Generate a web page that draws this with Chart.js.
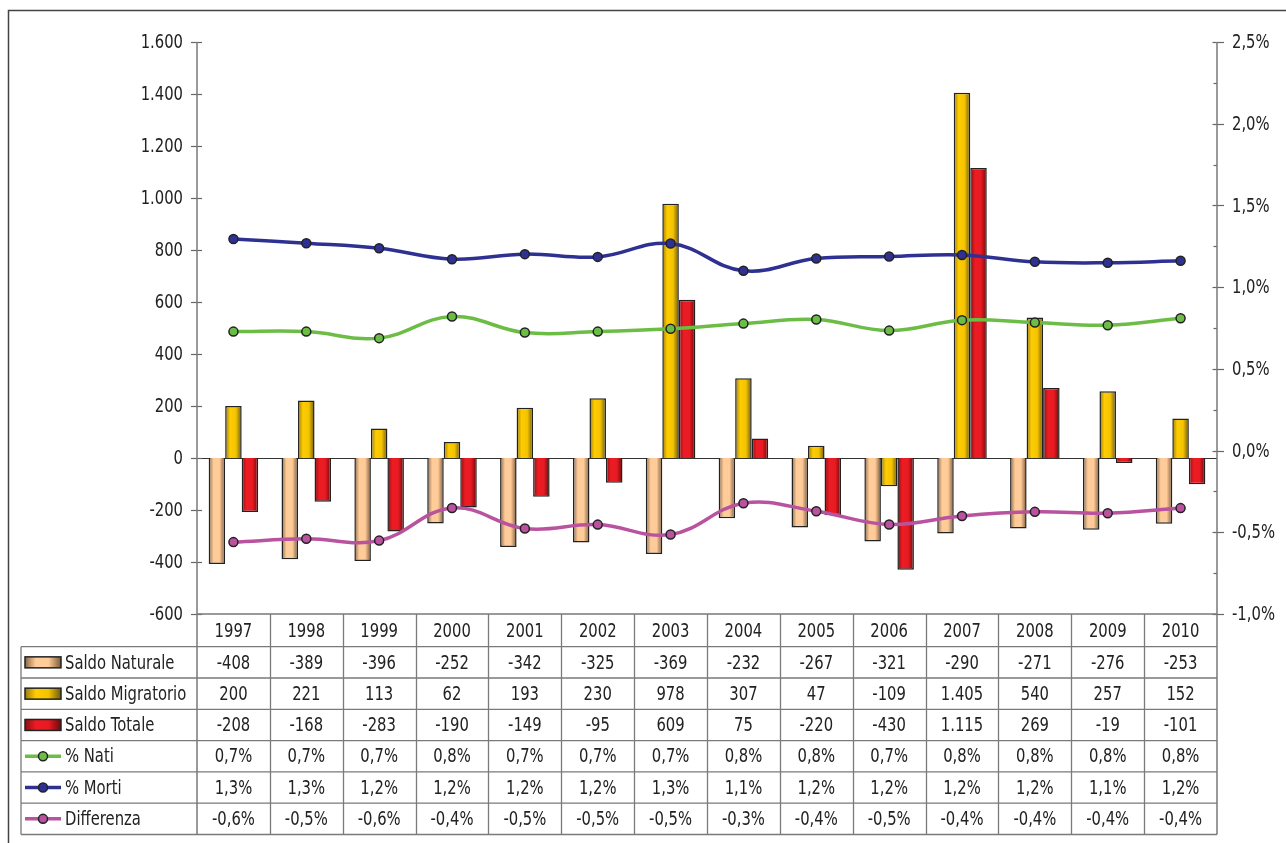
<!DOCTYPE html>
<html lang="it">
<head>
<meta charset="UTF-8" />
<title>Saldi demografici 1997-2010</title>
<script src="https://cdn.jsdelivr.net/npm/chart.js"></script>
<style>
  html, body { margin: 0; padding: 0; background: #fff; overflow: hidden; }
  #wrap { position: relative; width: 1286px; height: 843px; }
</style>
</head>
<body>
<div id="wrap"><canvas id="chart" width="1286" height="843"></canvas></div>

<script>
const years = ['1997','1998','1999','2000','2001','2002','2003','2004','2005','2006','2007','2008','2009','2010'];

const saldoNaturale   = [-408, -389, -396, -252, -342, -325, -369, -232, -267, -321, -290, -271, -276, -253];
const saldoMigratorio = [200, 221, 113, 62, 193, 230, 978, 307, 47, -109, 1405, 540, 257, 152];
const saldoTotale     = [-208, -168, -283, -190, -149, -95, 609, 75, -220, -430, 1115, 269, -19, -101];

// percent values
const pctNati       = [0.728, 0.728, 0.688, 0.820, 0.722, 0.728, 0.745, 0.777, 0.802, 0.734, 0.798, 0.783, 0.767, 0.810];
const pctMorti      = [1.295, 1.269, 1.238, 1.171, 1.202, 1.185, 1.267, 1.100, 1.175, 1.187, 1.197, 1.155, 1.149, 1.161];
const pctDifferenza = [-0.560, -0.540, -0.551, -0.351, -0.477, -0.453, -0.514, -0.322, -0.371, -0.452, -0.400, -0.375, -0.383, -0.352];

const FONT = "'DejaVu Sans', Verdana, sans-serif";
const FONT_SIZE = 20;
const NARROW = 0.74;   // horizontal squeeze, the original uses a narrow face
const TEXT = '#222';
const GRID = '#7a7a7a';
const catPct = 0.68;

// horizontal gradients: dark edge, light body, dark edge
const barColors = {
  naturale:   ['#8a6a4c', '#ffcc99', '#ffcc99', '#7a5a3c'],
  migratorio: ['#9a7c10', '#ffcc00', '#f4c400', '#6e5a10'],
  totale:     ['#8a1010', '#ed1c24', '#e81a22', '#6a0a0a']
};
const lineColors = { nati: '#6cbd45', morti: '#2e3192', diff: '#b9529f' };

function fmtInt(v) {
  const s = Math.abs(v).toString().replace(/\B(?=(\d{3})+(?!\d))/g, '.');
  return (v < 0 ? '-' : '') + s;
}
function fmtPct(v) {
  return v.toFixed(1).replace('.', ',') + '%';
}

function gradient(c, x0, x1, stops) {
  const g = c.createLinearGradient(x0, 0, x1, 0);
  g.addColorStop(0, stops[0]);
  g.addColorStop(0.3, stops[1]);
  g.addColorStop(0.65, stops[2]);
  g.addColorStop(1, stops[3]);
  return g;
}

function barFill(stops) {
  return function (ctx) {
    const chart = ctx.chart;
    const xs = chart.scales.x;
    if (!xs || ctx.type !== 'data') return stops[1];
    const w = xs.getPixelForValue(1) - xs.getPixelForValue(0);
    const bw = w * catPct / 3;
    const cx = xs.getPixelForValue(ctx.dataIndex) + (ctx.datasetIndex - 1) * bw;
    if (!isFinite(cx) || !isFinite(bw)) return stops[1];
    return gradient(chart.ctx, cx - bw / 2, cx + bw / 2, stops);
  };
}

function text(c, str, x, y, align) {
  c.save();
  c.translate(x, y);
  c.scale(NARROW, 1);
  c.textAlign = align;
  c.fillText(str, 0, 0);
  c.restore();
}

const tableRows = [
  { label: 'Saldo Naturale',   values: saldoNaturale,   fmt: fmtInt, bar: barColors.naturale },
  { label: 'Saldo Migratorio', values: saldoMigratorio, fmt: fmtInt, bar: barColors.migratorio },
  { label: 'Saldo Totale',     values: saldoTotale,     fmt: fmtInt, bar: barColors.totale },
  { label: '% Nati',           values: pctNati,         fmt: fmtPct, line: lineColors.nati },
  { label: '% Morti',          values: pctMorti,        fmt: fmtPct, line: lineColors.morti },
  { label: 'Differenza',       values: pctDifferenza,   fmt: fmtPct, line: lineColors.diff }
];

// frame, axes, ticks, zero line and the data table under the plot
const tablePlugin = {
  id: 'tablePlugin',
  beforeDatasetsDraw(chart) {
    const c = chart.ctx, a = chart.chartArea, y = chart.scales.y;
    const y0 = Math.round(y.getPixelForValue(0)) + 0.5;
    c.save();
    c.strokeStyle = '#333';
    c.lineWidth = 1;
    c.beginPath(); c.moveTo(a.left, y0); c.lineTo(a.right, y0); c.stroke();
    c.restore();
  },
  afterDraw(chart) {
    const c = chart.ctx, a = chart.chartArea;
    const xs = chart.scales.x, y = chart.scales.y, y1 = chart.scales.y1;
    const w = xs.getPixelForValue(1) - xs.getPixelForValue(0);
    const headerH = 32.7, rowH = 31.3, legendLeft = 21;
    const tableBottom = a.bottom + headerH + rowH * tableRows.length;

    c.save();
    // outer frame
    c.strokeStyle = '#444';
    c.lineWidth = 1.5;
    c.strokeRect(8.5, 10.5, 1300, 860);

    // tick marks
    c.strokeStyle = '#666';
    c.lineWidth = 1.2;
    y.ticks.forEach(t => {
      const py = Math.round(y.getPixelForValue(t.value)) + 0.5;
      c.beginPath(); c.moveTo(a.left - 6, py); c.lineTo(a.left + 5, py); c.stroke();
    });
    for (let v = y1.min; v <= y1.max + 1e-9; v += 0.25) {
      const py = Math.round(y1.getPixelForValue(v)) + 0.5;
      const major = Math.abs(v * 2 - Math.round(v * 2)) < 1e-6;
      c.beginPath();
      c.moveTo(a.right - (major ? 4.5 : 3.5), py);
      c.lineTo(a.right + (major ? 7 : 0), py);
      c.stroke();
    }

    // axis lines
    c.strokeStyle = GRID;
    c.lineWidth = 1.5;
    c.beginPath();
    c.moveTo(a.left, a.top); c.lineTo(a.left, tableBottom);
    c.moveTo(a.right, a.top); c.lineTo(a.right, tableBottom);
    c.stroke();

    // table grid
    c.lineWidth = 1.3;
    c.beginPath();
    c.moveTo(a.left, a.bottom); c.lineTo(a.right, a.bottom);
    for (let r = 0; r <= tableRows.length; r++) {
      const ry = a.bottom + headerH + r * rowH;
      c.moveTo(legendLeft, ry); c.lineTo(a.right, ry);
    }
    c.moveTo(legendLeft, a.bottom + headerH); c.lineTo(legendLeft, tableBottom);
    for (let i = 1; i < years.length; i++) {
      const bx = Math.round(a.left + i * w) + 0.5;
      c.moveTo(bx, a.bottom); c.lineTo(bx, tableBottom);
    }
    c.stroke();

    c.fillStyle = TEXT;
    c.font = FONT_SIZE + 'px ' + FONT;
    c.textBaseline = 'middle';

    // axis labels
    y.ticks.forEach(t => text(c, fmtInt(t.value), a.left - 14, y.getPixelForValue(t.value) + 1, 'right'));
    y1.ticks.forEach(t => text(c, fmtPct(t.value), a.right + 15, y1.getPixelForValue(t.value) + 1, 'left'));

    // header years
    years.forEach((yr, i) => text(c, yr, xs.getPixelForValue(i), a.bottom + headerH / 2 + 1, 'center'));

    // rows
    tableRows.forEach((row, r) => {
      const cy = a.bottom + headerH + r * rowH + rowH / 2;
      // legend key
      if (row.bar) {
        c.fillStyle = gradient(c, 25, 61, row.bar);
        c.fillRect(25, cy - 5.5, 36, 11);
        c.strokeStyle = '#222';
        c.lineWidth = 1.5;
        c.strokeRect(25, cy - 5.5, 36, 11);
      } else {
        c.strokeStyle = row.line;
        c.lineWidth = 3.5;
        c.beginPath(); c.moveTo(25, cy); c.lineTo(61, cy); c.stroke();
        c.fillStyle = row.line;
        c.strokeStyle = '#222';
        c.lineWidth = 1.5;
        c.beginPath(); c.arc(43, cy, 4.5, 0, Math.PI * 2); c.fill(); c.stroke();
      }
      c.fillStyle = TEXT;
      text(c, row.label, 65, cy + 1, 'left');
      row.values.forEach((v, i) => text(c, row.fmt(v), xs.getPixelForValue(i), cy + 1, 'center'));
    });
    c.restore();
  }
};

const lineDs = (label, data, color) => ({
  type: 'line',
  label,
  data,
  yAxisID: 'y1',
  order: 0,
  borderColor: color,
  borderWidth: 3.5,
  tension: 0.4,
  pointRadius: 4.5,
  pointBackgroundColor: color,
  pointBorderColor: '#222',
  pointBorderWidth: 1.5,
  fill: false
});

const barDs = (label, data, stops) => ({
  type: 'bar',
  label,
  data,
  yAxisID: 'y',
  order: 1,
  backgroundColor: barFill(stops),
  borderColor: '#222',
  borderWidth: 1.5,
  barPercentage: 1,
  categoryPercentage: catPct
});

Chart.defaults.font.family = FONT;
Chart.defaults.font.size = FONT_SIZE;
Chart.defaults.color = TEXT;

new Chart(document.getElementById('chart'), {
  data: {
    labels: years,
    datasets: [
      barDs('Saldo Naturale', saldoNaturale, barColors.naturale),
      barDs('Saldo Migratorio', saldoMigratorio, barColors.migratorio),
      barDs('Saldo Totale', saldoTotale, barColors.totale),
      lineDs('% Nati', pctNati, lineColors.nati),
      lineDs('% Morti', pctMorti, lineColors.morti),
      lineDs('Differenza', pctDifferenza, lineColors.diff)
    ]
  },
  options: {
    responsive: false,
    animation: false,
    layout: { padding: { left: 0, right: 0, top: 42, bottom: 229 } },
    plugins: { legend: { display: false }, tooltip: { enabled: false } },
    scales: {
      x: { display: false, offset: true },
      y: {
        position: 'left',
        min: -600, max: 1600,
        ticks: { stepSize: 200, display: false },
        grid: { display: false, drawTicks: false },
        border: { display: false },
        afterFit: s => { s.width = 197; }
      },
      y1: {
        position: 'right',
        min: -1, max: 2.5,
        ticks: { stepSize: 0.5, display: false },
        grid: { display: false, drawTicks: false },
        border: { display: false },
        afterFit: s => { s.width = 69; }
      }
    }
  },
  plugins: [tablePlugin]
});
</script>
</body>
</html>
